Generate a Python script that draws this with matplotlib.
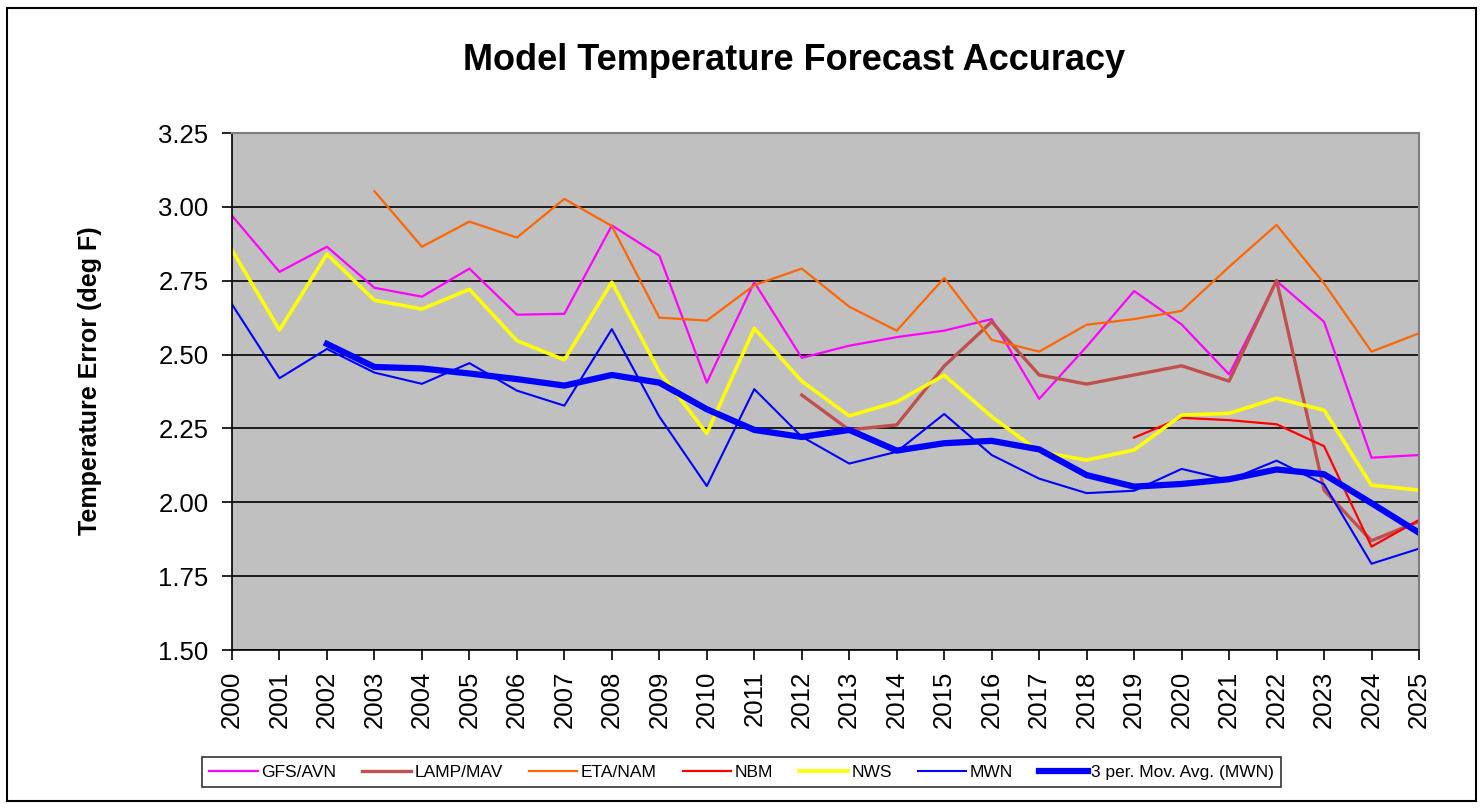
import numpy as np
import matplotlib
matplotlib.use("Agg")
import matplotlib.pyplot as plt
from matplotlib.patches import Rectangle

plt.rcParams['font.family'] = ['Liberation Sans', 'DejaVu Sans']

nan = np.nan
years = list(range(2000, 2026))

# values (deg F)
gfs = [2.97, 2.78, 2.865, 2.726, 2.696, 2.791, 2.635, 2.638, 2.937, 2.835,
       2.405, 2.745, 2.489, 2.53, 2.559, 2.581, 2.62, 2.35, 2.527, 2.715,
       2.602, 2.433, 2.749, 2.611, 2.151, 2.16]
lamp = [nan] * 12 + [2.363, 2.245, 2.262, 2.461, 2.611, 2.431, 2.40, 2.431,
                     2.462, 2.41, 2.751, 2.041, 1.87, 1.935]
eta = [nan] * 3 + [3.053, 2.865, 2.95, 2.896, 3.027, 2.935, 2.625, 2.615,
                   2.735, 2.791, 2.662, 2.581, 2.759, 2.55, 2.51, 2.601, 2.62,
                   2.648, 2.797, 2.939, 2.741, 2.51, 2.572]
nbm = [nan] * 19 + [2.219, 2.286, 2.278, 2.264, 2.19, 1.85, 1.94]
nws = [2.854, 2.583, 2.84, 2.684, 2.654, 2.721, 2.547, 2.482, 2.745, 2.442,
       2.233, 2.589, 2.41, 2.292, 2.34, 2.43, 2.29, 2.171, 2.143, 2.177,
       2.295, 2.301, 2.352, 2.312, 2.058, 2.041]
mwn = [2.67, 2.42, 2.519, 2.439, 2.401, 2.471, 2.378, 2.327, 2.586, 2.29,
       2.055, 2.383, 2.222, 2.131, 2.171, 2.299, 2.16, 2.08, 2.031, 2.039,
       2.113, 2.075, 2.141, 2.061, 1.792, 1.843]
mwn_avg = [nan, nan, 2.536, 2.458, 2.453, 2.436, 2.417, 2.395, 2.431, 2.405,
           2.315, 2.245, 2.221, 2.245, 2.175, 2.20, 2.208, 2.179, 2.092, 2.053,
           2.062, 2.078, 2.111, 2.095, 1.997, 1.897]

fig = plt.figure(figsize=(14.84, 8.10), dpi=100)
ax = fig.add_axes([232/1484, 1-650/810, (1419-232)/1484, (650-133)/810])
ax.set_facecolor('#C0C0C0')

ax.plot(years, gfs, color='#FF00FF', lw=1.6, label='GFS/AVN')
ax.plot(years, lamp, color='#C0504D', lw=2.4, label='LAMP/MAV')
ax.plot(years, eta, color='#FF6600', lw=1.6, label='ETA/NAM')
ax.plot(years, nbm, color='#FF0000', lw=1.6, label='NBM')
ax.plot(years, nws, color='#FFFF00', lw=2.6, label='NWS')
ax.plot(years, mwn, color='#0000FF', lw=1.5, label='MWN')
ax.plot(years, mwn_avg, color='#0000FF', lw=4.5, label='3 per. Mov. Avg. (MWN)')

ax.set_xlim(2000, 2025)
ax.set_ylim(1.5, 3.25)
ticks = np.arange(1.5, 3.26, 0.25)
ax.set_yticks(ticks)
ax.set_yticklabels([f'{v:.2f}' for v in ticks])
ax.set_xticks(years)
ax.set_xticklabels([str(y) for y in years], rotation=90)
ax.tick_params(axis='both', labelsize=18.5, length=7, width=1.2, direction='out')
ax.tick_params(axis='y', pad=10)
ax.tick_params(axis='x', pad=8)
ax.yaxis.grid(True, color='black', lw=1.2)
ax.set_axisbelow(True)
for s in ['top', 'right']:
    ax.spines[s].set_color('#808080')
    ax.spines[s].set_linewidth(1.5)
for s in ['left', 'bottom']:
    ax.spines[s].set_color('black')
    ax.spines[s].set_linewidth(1.2)

fig.text(794/1484, 1-60/810, 'Model Temperature Forecast Accuracy',
         ha='center', va='center', fontsize=26, fontweight='bold')
fig.text(90/1484, 1-381/810, 'Temperature Error (deg F)', rotation=90,
         ha='center', va='center', fontsize=18, fontweight='bold')

leg = fig.legend(loc='center', bbox_to_anchor=(741.5/1484, 1-772/810), ncol=7,
                 fontsize=12.5, frameon=True, fancybox=False, edgecolor='black',
                 handlelength=2.8, handletextpad=0.2, columnspacing=1.5,
                 borderpad=0.4)
leg.get_frame().set_linewidth(1.2)

fig.patches.append(Rectangle((7/1484, 1-801/810), (1476-7)/1484, (801-8)/810,
                             transform=fig.transFigure, fill=False,
                             edgecolor='black', lw=1.5))

fig.savefig('out.png', dpi=100)
